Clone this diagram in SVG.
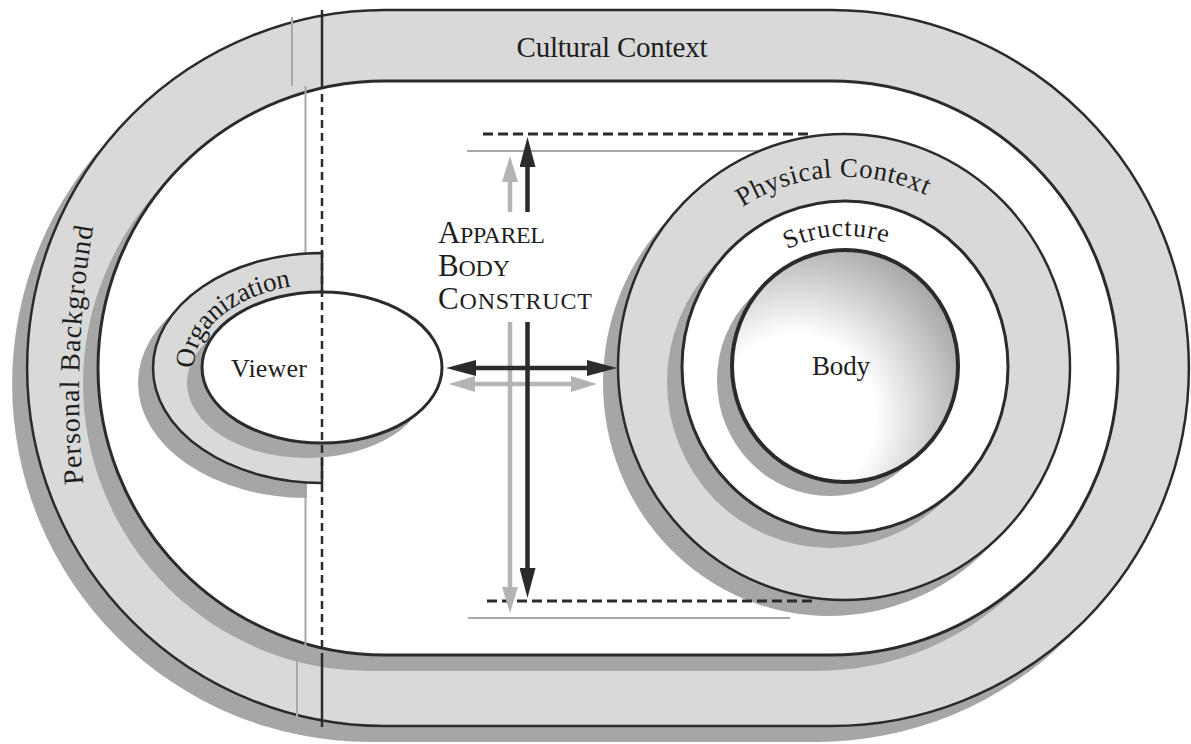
<svg xmlns="http://www.w3.org/2000/svg" xmlns:xlink="http://www.w3.org/1999/xlink" width="1191" height="744" viewBox="0 0 1191 744">
<defs>
<style>
.band{fill:#d9d9d9;stroke:#2b2b2b;stroke-width:2.5}
.white{fill:#ffffff;stroke:#2b2b2b;stroke-width:3}
.shadow{fill:#a6a6a6;stroke:none}
.lbl{font-family:"Liberation Serif","Times New Roman",serif;fill:#1e1e1e}
.hdash{stroke:#2b2b2b;stroke-width:3;stroke-dasharray:10 5;fill:none}
.vdash{stroke:#2b2b2b;stroke-width:2.5;stroke-dasharray:8 5;fill:none}
.thin{stroke:#a8a8a8;stroke-width:2;fill:none}
.solid{stroke:#2b2b2b;stroke-width:2.5;fill:none}
.adark{stroke:#2b2b2b;stroke-width:4.5;fill:none}
.agray{stroke:#b4b4b4;stroke-width:4.5;fill:none}
</style>
<path id="outerStadium" d="M385 10 L831 10 A358 358 0 0 1 831 726 L385 726 A358 358 0 0 1 385 10 Z"/>
<path id="innerStadium" d="M385 81 L831 81 A287 287 0 0 1 831 655 L385 655 A287 287 0 0 1 385 81 Z"/>
<path id="orgShape" d="M322 253 A169 115 0 0 0 322 483 Z"/>
<radialGradient id="bodyGrad" cx="0.28" cy="0.72" r="0.85">
<stop offset="0" stop-color="#ffffff"/>
<stop offset="0.42" stop-color="#ffffff"/>
<stop offset="1" stop-color="#9e9e9e"/>
</radialGradient>
<marker id="headDark" markerUnits="userSpaceOnUse" markerWidth="30" markerHeight="16" refX="2" refY="8" orient="auto-start-reverse"><path d="M0,0 L30,8 L0,16 Z" fill="#2b2b2b"/></marker>
<marker id="headGray" markerUnits="userSpaceOnUse" markerWidth="26" markerHeight="16" refX="2" refY="8" orient="auto-start-reverse"><path d="M0,0 L26,8 L0,16 Z" fill="#b4b4b4"/></marker>
<path id="pbPath" d="M84 492 Q70 355 95 218"/>
<path id="orgPath" d="M195.9 382.6 A128 84 0 0 1 386 295.3"/>
<path id="physPath" d="M655 367 A190 190 0 0 1 1035 367"/>
<path id="structPath" d="M714 367 A131 131 0 0 1 976 367"/>
</defs>

<g id="personal-background">
<use xlink:href="#outerStadium" class="shadow" transform="translate(-15,16)"/>
<use xlink:href="#outerStadium" class="band"/>
</g>

<g id="cultural-context">
<use xlink:href="#innerStadium" class="shadow" transform="translate(-15,16)"/>
<use xlink:href="#innerStadium" class="white"/>
<line class="thin" x1="292" y1="17" x2="292" y2="86"/>
<line class="thin" x1="297" y1="656" x2="297" y2="720"/>
<line class="solid" x1="322" y1="10" x2="322" y2="81"/>
<line class="solid" x1="322" y1="655" x2="322" y2="727"/>
<line class="thin" x1="305.5" y1="86" x2="305.5" y2="650"/>
</g>

<g id="physical-context">
<ellipse class="shadow" cx="829" cy="383" rx="226" ry="233"/>
<line class="thin" x1="467" y1="151" x2="800" y2="151"/>
<line class="thin" x1="468" y1="618" x2="790" y2="618"/>
<line class="hdash" x1="483" y1="134" x2="810" y2="134"/>
<line class="hdash" x1="487" y1="601" x2="812" y2="601"/>
<ellipse class="band" stroke-width="3" cx="844" cy="367" rx="226" ry="233"/>
</g>

<g id="structure">
<ellipse class="shadow" cx="830" cy="382" rx="163" ry="166"/>
<ellipse class="white" cx="845" cy="367" rx="163" ry="166"/>
</g>

<g id="body">
<ellipse class="shadow" cx="830" cy="380" rx="113" ry="116"/>
<ellipse cx="845" cy="366" rx="113" ry="116" fill="url(#bodyGrad)" stroke="#2b2b2b" stroke-width="4"/>
</g>

<g id="organization">
<use xlink:href="#orgShape" class="shadow" transform="translate(-15,15)"/>
<use xlink:href="#orgShape" class="band" stroke-width="3"/>
</g>

<g id="viewer">
<ellipse class="shadow" cx="307" cy="383" rx="120" ry="75"/>
<ellipse class="white" stroke-width="3.5" cx="322" cy="367.5" rx="120" ry="75.5"/>
</g>

<g id="divider">
<line class="vdash" x1="322" y1="81" x2="322" y2="655"/>
</g>

<g id="connectors">
<line class="agray" x1="473" y1="384" x2="573" y2="384" marker-start="url(#headGray)" marker-end="url(#headGray)"/>
<line class="agray" x1="510" y1="212" x2="510" y2="180" marker-end="url(#headGray)"/>
<line class="agray" x1="510" y1="322" x2="510" y2="589" marker-end="url(#headGray)"/>
<line class="adark" x1="474" y1="368" x2="589" y2="368" marker-start="url(#headDark)" marker-end="url(#headDark)"/>
<line class="adark" x1="527.5" y1="212" x2="527.5" y2="165" marker-end="url(#headDark)"/>
<line class="adark" x1="527.5" y1="322" x2="527.5" y2="570" marker-end="url(#headDark)"/>
</g>

<g id="labels">
<text class="lbl" x="612" y="57" font-size="29" text-anchor="middle" textLength="191" lengthAdjust="spacing">Cultural Context</text>
<text class="lbl" font-size="28"><textPath xlink:href="#pbPath" startOffset="8" textLength="258" lengthAdjust="spacing">Personal Background</textPath></text>
<text class="lbl" font-size="27"><textPath xlink:href="#orgPath" startOffset="14" textLength="138" lengthAdjust="spacing">Organization</textPath></text>
<text class="lbl" x="231" y="377" font-size="26" textLength="76" lengthAdjust="spacing">Viewer</text>
<text class="lbl" x="812" y="375" font-size="27" textLength="58" lengthAdjust="spacing">Body</text>
<text class="lbl" font-size="27" text-anchor="middle"><textPath xlink:href="#physPath" startOffset="286" textLength="192" lengthAdjust="spacing">Physical Context</textPath></text>
<text class="lbl" font-size="26" text-anchor="middle"><textPath xlink:href="#structPath" startOffset="197" textLength="102" lengthAdjust="spacing">Structure</textPath></text>
<text class="lbl" x="438" y="243" textLength="107" lengthAdjust="spacing"><tspan font-size="31">A</tspan><tspan font-size="24">PPAREL</tspan></text>
<text class="lbl" x="438" y="276" textLength="72" lengthAdjust="spacing"><tspan font-size="31">B</tspan><tspan font-size="24">ODY</tspan></text>
<text class="lbl" x="438" y="309" textLength="154" lengthAdjust="spacing"><tspan font-size="31">C</tspan><tspan font-size="24">ONSTRUCT</tspan></text>
</g>
</svg>
